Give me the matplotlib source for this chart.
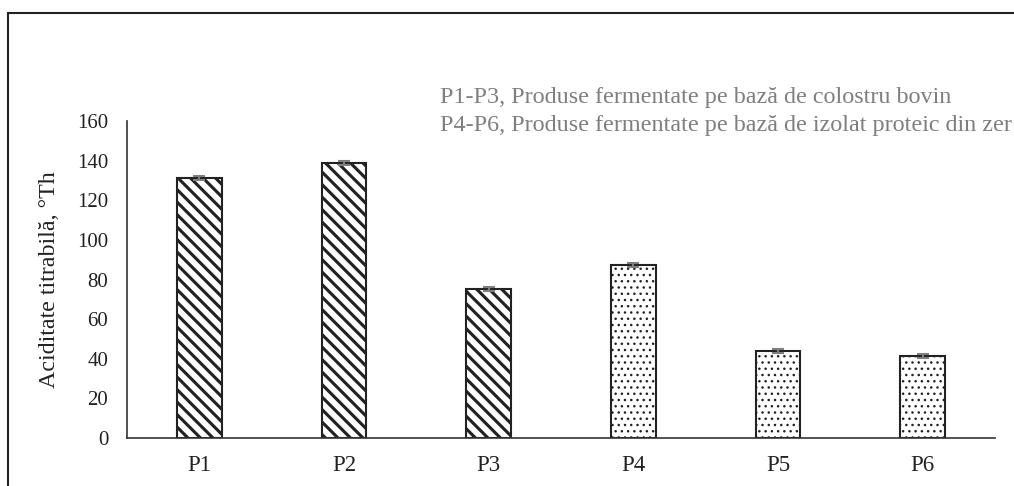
import matplotlib
matplotlib.use("Agg")
import matplotlib.pyplot as plt
from matplotlib.patches import Rectangle

# values
samples = ["P1", "P2", "P3", "P4", "P5", "P6"]
acidity = [131, 139, 75, 87.5, 44, 41.5]
errors = [1.0, 1.0, 1.0, 1.0, 1.0, 1.0]
hatches = ["\\\\\\\\", "\\\\\\\\", "\\\\\\\\", "....", "....", "...."]
legend_lines = ["P1-P3, Produse fermentate pe bază de colostru bovin",
                "P4-P6, Produse fermentate pe bază de izolat proteic din zer"]
y_ticks = [0, 20, 40, 60, 80, 100, 120, 140, 160]

plt.rcParams['font.family'] = ['Liberation Serif', 'DejaVu Serif']
plt.rcParams['hatch.color'] = 'black'

dpi = 150
fig = plt.figure(figsize=(1014 / dpi, 486 / dpi), dpi=dpi)

# outer frame (runs off the right and bottom edges)
fig.patches.append(Rectangle((8 / 1014, -0.1), 1.2, 1.1 - 13 / 486,
                             transform=fig.transFigure, fill=False,
                             edgecolor='#222222', linewidth=1.0))

ax = fig.add_axes([127 / 1014, 1 - 438 / 486, 868 / 1014, 317 / 486])

for i, (v, e, h) in enumerate(zip(acidity, errors, hatches)):
    hlw = 1.5 if h.startswith("\\") else 0.6
    plt.rcParams['hatch.linewidth'] = hlw
    b = ax.bar(i, v, width=0.31, color='white', edgecolor='#222222',
               linewidth=1.0, hatch=h, zorder=2)
    if hasattr(b[0], 'set_hatch_linewidth'):
        b[0].set_hatch_linewidth(hlw)
    ax.errorbar(i, v, yerr=e, fmt='none', ecolor='#7f7f7f', elinewidth=1.0,
                capsize=3, capthick=1.0, zorder=3)

ax.set_xlim(-0.5, 5.5)
ax.set_ylim(0, 160)
ax.set_yticks(y_ticks)
ax.set_xticks(range(len(samples)))
ax.set_xticklabels(samples)
ax.tick_params(axis='y', length=0, labelsize=10, colors='#222222', pad=9)
ax.tick_params(axis='x', length=0, labelsize=11, colors='#222222', pad=8)
for s in ['top', 'right']:
    ax.spines[s].set_visible(False)
for s in ['left', 'bottom']:
    ax.spines[s].set_color('#333333')
    ax.spines[s].set_linewidth(0.8)
ax.set_ylabel("Aciditate titrabilă, °Th", fontsize=11.5, color='#222222', labelpad=8)

for k, line in enumerate(legend_lines):
    fig.text(440 / 1014, 1 - (97 + 28 * k) / 486, line, fontsize=11.6,
             color='#7f7f7f', va='center', ha='left')

fig.savefig("out.png", dpi=dpi, facecolor='white')
